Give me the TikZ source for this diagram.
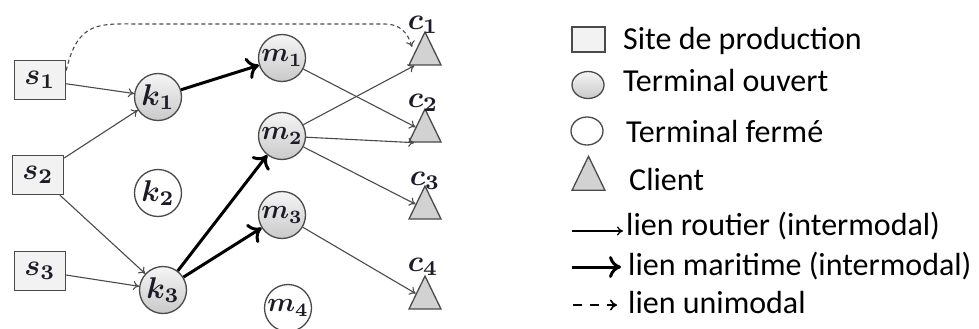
\documentclass[tikz,border=0pt]{standalone}
\usepackage{graphicx}
\usepackage{fontspec}
\setmainfont{Carlito}
\usetikzlibrary{arrows.meta,shapes.geometric,calc}
\definecolor{edgegray}{HTML}{4A4A4A}
\definecolor{labcol}{HTML}{1C1C28}
\newcommand{\lbl}[2]{\scalebox{3.0}{\boldmath$#1_{#2}$}}
\newcommand{\lblm}[2]{\scalebox{2.7}{\boldmath$#1_{#2}$}}
\tikzset{
  labfont/.style={text=labcol},
  site/.style={draw=edgegray, line width=1.4pt, fill=gray!10, minimum width=51, minimum height=39, inner sep=0, labfont},
  openterm/.style={circle, draw=edgegray, line width=1.3pt, top color=gray!8, bottom color=gray!42, minimum size=47, inner sep=0, labfont},
  closedterm/.style={circle, draw=edgegray, line width=1.3pt, fill=white, minimum size=47, inner sep=0, labfont},
  client/.style={isosceles triangle, shape border rotate=90, isosceles triangle stretches, draw=edgegray, line width=1.3pt, fill=gray!35, minimum width=32, minimum height=33, inner sep=0},
  clab/.style={labfont, inner sep=0},
  road/.style={draw=edgegray, line width=1.1pt, -{To[length=6pt,width=9pt]}},
  sea/.style={draw=black, line width=3pt, -{To[length=12pt,width=22pt]}},
  uni/.style={draw=edgegray, line width=1.1pt, dash pattern=on 4pt off 3pt, -{To[length=6pt,width=9pt]}},
  legtext/.style={anchor=base west, inner sep=0, font=\fontsize{32}{35}\selectfont, text=black},
}
\begin{document}
\begin{tikzpicture}[x=1pt,y=-1pt]
\useasboundingbox (0,0) rectangle (979,329);
% nodes
\node[site] (S1) at (40,80) {\lbl{s}{1}};
\node[site] (S2) at (38,175) {\lbl{s}{2}};
\node[site] (S3) at (40,271) {\lbl{s}{3}};
\node[openterm] (k1) at (158,97) {\lbl{k}{1}};
\node[closedterm] (k2) at (158,193) {\lbl{k}{2}};
\node[openterm] (k3) at (163,290) {\lbl{k}{3}};
\node[openterm] (m1) at (282,58) {\lblm{m}{1}};
\node[openterm] (m2) at (282,136) {\lblm{m}{2}};
\node[openterm] (m3) at (282,215) {\lblm{m}{3}};
\node[closedterm] (m4) at (288,308) {\lblm{m}{4}};
\node[client] (c1) at (425,55) {};
\node[client] (c2) at (425,132) {};
\node[client] (c3) at (425,209) {};
\node[client] (c4) at (425,299) {};
\node[clab] (lc1) at (423,25) {\lbl{c}{1}};
\node[clab] (lc2) at (423,103) {\lbl{c}{2}};
\node[clab] (lc3) at (425,181) {\lbl{c}{3}};
\node[clab] (lc4) at (423,267) {\lbl{c}{4}};
% road links
\draw[road] (S1) -- (k1);
\draw[road] (S2) -- (k1);
\draw[road] (S2) -- (k3);
\draw[road] (S3) -- (k3);
\draw[road] (m1) -- (c2);
\draw[road] (m2) -- (c1.south west);
\draw[road] (m2) -- (c2.south west);
\draw[road] (m2) -- (c3);
\draw[road] (m3) -- (c4);
% sea links
\draw[sea] (k1) -- (m1);
\draw[sea] (k3) -- (m2);
\draw[sea] (k3) -- (m3);
% unimodal
\coordinate (d1) at (412,47);
\draw[uni] (S1.20) .. controls (78,20) and (100,24) .. (140,24) -- (385,24) .. controls (400,24) and (408,33) .. (d1);
% legend
\node[draw=edgegray, line width=1.4pt, fill=gray!10, minimum width=33, minimum height=25, inner sep=0] (ls) at (588.5,39.5) {};
\node[legtext] (ts) at (623,50) {Site de production};
\node[ellipse, draw=edgegray, line width=1.3pt, top color=gray!8, bottom color=gray!42, minimum width=32, minimum height=27, inner sep=0] (lo) at (588,85) {};
\node[legtext] (to) at (623,92) {Terminal ouvert};
\node[ellipse, draw=edgegray, line width=1.3pt, fill=white, minimum width=32, minimum height=28, inner sep=0] (lf) at (587,131) {};
\node[legtext] (tf) at (626,142) {Terminal fermé};
\node[client, minimum width=33, minimum height=34] (lt) at (588.5,180) {};
\node[legtext] (tc) at (629,190) {Client};
\coordinate (ra) at (572,231); \coordinate (rb) at (623,231);
\draw[draw=black, line width=1.3pt, -{To[length=6pt,width=9pt]}] (ra) -- (rb);
\node[legtext] (tr) at (626,235) {lien routier (intermodal)};
\coordinate (sa) at (572,267); \coordinate (sb) at (621,267);
\draw[sea] (sa) -- (sb);
\node[legtext] (tm) at (628,275) {lien maritime (intermodal)};
\coordinate (ua) at (573,305); \coordinate (ub) at (617,305);
\draw[draw=black, line width=1.6pt, dash pattern=on 9pt off 8pt, -{To[length=7pt,width=11pt]}] (ua) -- (ub);
\node[legtext] (tu) at (628,313) {lien unimodal};
\end{tikzpicture}
\end{document}
